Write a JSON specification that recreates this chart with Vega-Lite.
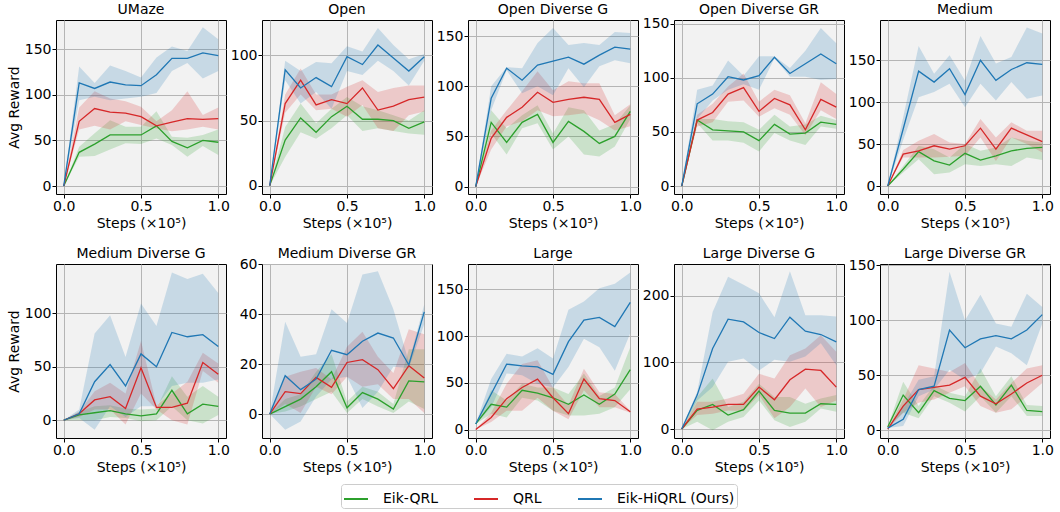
{
"$schema":"https://vega.github.io/schema/vega-lite/v6.json",
"padding":{"left":6,"top":2,"right":5,"bottom":0},
"bounds":"flush",
"columns":5,
"spacing":{"row":70,"column":36},
"data":{"values":[
{"p":"UMaze","s":"Eik-QRL","x":0,"y":0,"lo":0,"hi":0},
{"p":"UMaze","s":"Eik-QRL","x":0.1,"y":37,"lo":32,"hi":43},
{"p":"UMaze","s":"Eik-QRL","x":0.2,"y":46,"lo":33,"hi":58},
{"p":"UMaze","s":"Eik-QRL","x":0.3,"y":56,"lo":40,"hi":72},
{"p":"UMaze","s":"Eik-QRL","x":0.4,"y":56,"lo":47,"hi":65},
{"p":"UMaze","s":"Eik-QRL","x":0.5,"y":56,"lo":46,"hi":65},
{"p":"UMaze","s":"Eik-QRL","x":0.6,"y":66,"lo":52,"hi":82},
{"p":"UMaze","s":"Eik-QRL","x":0.7,"y":49,"lo":45,"hi":54},
{"p":"UMaze","s":"Eik-QRL","x":0.8,"y":42,"lo":32,"hi":53},
{"p":"UMaze","s":"Eik-QRL","x":0.9,"y":50,"lo":44,"hi":56},
{"p":"UMaze","s":"Eik-QRL","x":1.0,"y":48,"lo":34,"hi":62},
{"p":"UMaze","s":"QRL","x":0,"y":0,"lo":0,"hi":0},
{"p":"UMaze","s":"QRL","x":0.1,"y":71,"lo":62,"hi":86},
{"p":"UMaze","s":"QRL","x":0.2,"y":85,"lo":66,"hi":104},
{"p":"UMaze","s":"QRL","x":0.3,"y":81,"lo":62,"hi":96},
{"p":"UMaze","s":"QRL","x":0.4,"y":80,"lo":71,"hi":93},
{"p":"UMaze","s":"QRL","x":0.5,"y":76,"lo":67,"hi":87},
{"p":"UMaze","s":"QRL","x":0.6,"y":66,"lo":63,"hi":71},
{"p":"UMaze","s":"QRL","x":0.7,"y":70,"lo":60,"hi":83},
{"p":"UMaze","s":"QRL","x":0.8,"y":74,"lo":62,"hi":104},
{"p":"UMaze","s":"QRL","x":0.9,"y":73,"lo":65,"hi":78},
{"p":"UMaze","s":"QRL","x":1.0,"y":74,"lo":62,"hi":86},
{"p":"UMaze","s":"Eik-HiQRL (Ours)","x":0,"y":0,"lo":0,"hi":0},
{"p":"UMaze","s":"Eik-HiQRL (Ours)","x":0.1,"y":113,"lo":94,"hi":131},
{"p":"UMaze","s":"Eik-HiQRL (Ours)","x":0.2,"y":107,"lo":98,"hi":113},
{"p":"UMaze","s":"Eik-HiQRL (Ours)","x":0.3,"y":114,"lo":94,"hi":132},
{"p":"UMaze","s":"Eik-HiQRL (Ours)","x":0.4,"y":111,"lo":96,"hi":126},
{"p":"UMaze","s":"Eik-HiQRL (Ours)","x":0.5,"y":110,"lo":98,"hi":119},
{"p":"UMaze","s":"Eik-HiQRL (Ours)","x":0.6,"y":122,"lo":102,"hi":141},
{"p":"UMaze","s":"Eik-HiQRL (Ours)","x":0.7,"y":140,"lo":126,"hi":153},
{"p":"UMaze","s":"Eik-HiQRL (Ours)","x":0.8,"y":140,"lo":135,"hi":148},
{"p":"UMaze","s":"Eik-HiQRL (Ours)","x":0.9,"y":146,"lo":118,"hi":174},
{"p":"UMaze","s":"Eik-HiQRL (Ours)","x":1.0,"y":143,"lo":126,"hi":161},
{"p":"Open","s":"Eik-QRL","x":0,"y":0,"lo":0,"hi":0},
{"p":"Open","s":"Eik-QRL","x":0.1,"y":35,"lo":22,"hi":45},
{"p":"Open","s":"Eik-QRL","x":0.2,"y":52,"lo":41,"hi":63},
{"p":"Open","s":"Eik-QRL","x":0.3,"y":41,"lo":36,"hi":48},
{"p":"Open","s":"Eik-QRL","x":0.4,"y":53,"lo":44,"hi":59},
{"p":"Open","s":"Eik-QRL","x":0.5,"y":61,"lo":54,"hi":68},
{"p":"Open","s":"Eik-QRL","x":0.6,"y":51,"lo":42,"hi":61},
{"p":"Open","s":"Eik-QRL","x":0.7,"y":51,"lo":44,"hi":58},
{"p":"Open","s":"Eik-QRL","x":0.8,"y":50,"lo":42,"hi":54},
{"p":"Open","s":"Eik-QRL","x":0.9,"y":44,"lo":40,"hi":50},
{"p":"Open","s":"Eik-QRL","x":1.0,"y":49,"lo":39,"hi":58},
{"p":"Open","s":"QRL","x":0,"y":0,"lo":0,"hi":0},
{"p":"Open","s":"QRL","x":0.1,"y":63,"lo":56,"hi":70},
{"p":"Open","s":"QRL","x":0.2,"y":81,"lo":70,"hi":90},
{"p":"Open","s":"QRL","x":0.3,"y":62,"lo":58,"hi":70},
{"p":"Open","s":"QRL","x":0.4,"y":66,"lo":59,"hi":70},
{"p":"Open","s":"QRL","x":0.5,"y":63,"lo":53,"hi":76},
{"p":"Open","s":"QRL","x":0.6,"y":75,"lo":62,"hi":81},
{"p":"Open","s":"QRL","x":0.7,"y":58,"lo":44,"hi":72},
{"p":"Open","s":"QRL","x":0.8,"y":61,"lo":42,"hi":75},
{"p":"Open","s":"QRL","x":0.9,"y":66,"lo":54,"hi":77},
{"p":"Open","s":"QRL","x":1.0,"y":68,"lo":57,"hi":77},
{"p":"Open","s":"Eik-HiQRL (Ours)","x":0,"y":0,"lo":0,"hi":0},
{"p":"Open","s":"Eik-HiQRL (Ours)","x":0.1,"y":89,"lo":81,"hi":96},
{"p":"Open","s":"Eik-HiQRL (Ours)","x":0.2,"y":75,"lo":63,"hi":88},
{"p":"Open","s":"Eik-HiQRL (Ours)","x":0.3,"y":83,"lo":72,"hi":95},
{"p":"Open","s":"Eik-HiQRL (Ours)","x":0.4,"y":76,"lo":59,"hi":94},
{"p":"Open","s":"Eik-HiQRL (Ours)","x":0.5,"y":99,"lo":88,"hi":107},
{"p":"Open","s":"Eik-HiQRL (Ours)","x":0.6,"y":93,"lo":85,"hi":103},
{"p":"Open","s":"Eik-HiQRL (Ours)","x":0.7,"y":108,"lo":96,"hi":121},
{"p":"Open","s":"Eik-HiQRL (Ours)","x":0.8,"y":98,"lo":88,"hi":108},
{"p":"Open","s":"Eik-HiQRL (Ours)","x":0.9,"y":88,"lo":77,"hi":97},
{"p":"Open","s":"Eik-HiQRL (Ours)","x":1.0,"y":99,"lo":96,"hi":101},
{"p":"Open Diverse G","s":"Eik-QRL","x":0,"y":0,"lo":0,"hi":0},
{"p":"Open Diverse G","s":"Eik-QRL","x":0.1,"y":64,"lo":53,"hi":76},
{"p":"Open Diverse G","s":"Eik-QRL","x":0.2,"y":44,"lo":32,"hi":58},
{"p":"Open Diverse G","s":"Eik-QRL","x":0.3,"y":64,"lo":58,"hi":71},
{"p":"Open Diverse G","s":"Eik-QRL","x":0.4,"y":72,"lo":63,"hi":81},
{"p":"Open Diverse G","s":"Eik-QRL","x":0.5,"y":44,"lo":37,"hi":53},
{"p":"Open Diverse G","s":"Eik-QRL","x":0.6,"y":65,"lo":50,"hi":79},
{"p":"Open Diverse G","s":"Eik-QRL","x":0.7,"y":55,"lo":32,"hi":76},
{"p":"Open Diverse G","s":"Eik-QRL","x":0.8,"y":43,"lo":30,"hi":56},
{"p":"Open Diverse G","s":"Eik-QRL","x":0.9,"y":50,"lo":40,"hi":62},
{"p":"Open Diverse G","s":"Eik-QRL","x":1.0,"y":75,"lo":67,"hi":81},
{"p":"Open Diverse G","s":"QRL","x":0,"y":0,"lo":0,"hi":0},
{"p":"Open Diverse G","s":"QRL","x":0.1,"y":48,"lo":37,"hi":56},
{"p":"Open Diverse G","s":"QRL","x":0.2,"y":69,"lo":60,"hi":76},
{"p":"Open Diverse G","s":"QRL","x":0.3,"y":79,"lo":65,"hi":95},
{"p":"Open Diverse G","s":"QRL","x":0.4,"y":94,"lo":76,"hi":115},
{"p":"Open Diverse G","s":"QRL","x":0.5,"y":84,"lo":70,"hi":96},
{"p":"Open Diverse G","s":"QRL","x":0.6,"y":87,"lo":71,"hi":105},
{"p":"Open Diverse G","s":"QRL","x":0.7,"y":89,"lo":73,"hi":103},
{"p":"Open Diverse G","s":"QRL","x":0.8,"y":87,"lo":66,"hi":103},
{"p":"Open Diverse G","s":"QRL","x":0.9,"y":64,"lo":56,"hi":71},
{"p":"Open Diverse G","s":"QRL","x":1.0,"y":72,"lo":60,"hi":82},
{"p":"Open Diverse G","s":"Eik-HiQRL (Ours)","x":0,"y":0,"lo":0,"hi":0},
{"p":"Open Diverse G","s":"Eik-HiQRL (Ours)","x":0.1,"y":88,"lo":76,"hi":100},
{"p":"Open Diverse G","s":"Eik-HiQRL (Ours)","x":0.2,"y":118,"lo":116,"hi":119},
{"p":"Open Diverse G","s":"Eik-HiQRL (Ours)","x":0.3,"y":106,"lo":93,"hi":118},
{"p":"Open Diverse G","s":"Eik-HiQRL (Ours)","x":0.4,"y":121,"lo":100,"hi":143},
{"p":"Open Diverse G","s":"Eik-HiQRL (Ours)","x":0.5,"y":125,"lo":91,"hi":158},
{"p":"Open Diverse G","s":"Eik-HiQRL (Ours)","x":0.6,"y":129,"lo":118,"hi":141},
{"p":"Open Diverse G","s":"Eik-HiQRL (Ours)","x":0.7,"y":122,"lo":99,"hi":143},
{"p":"Open Diverse G","s":"Eik-HiQRL (Ours)","x":0.8,"y":131,"lo":120,"hi":141},
{"p":"Open Diverse G","s":"Eik-HiQRL (Ours)","x":0.9,"y":139,"lo":126,"hi":154},
{"p":"Open Diverse G","s":"Eik-HiQRL (Ours)","x":1.0,"y":137,"lo":123,"hi":153},
{"p":"Open Diverse GR","s":"Eik-QRL","x":0,"y":0,"lo":0,"hi":0},
{"p":"Open Diverse GR","s":"Eik-QRL","x":0.1,"y":61,"lo":58,"hi":62},
{"p":"Open Diverse GR","s":"Eik-QRL","x":0.2,"y":52,"lo":42,"hi":62},
{"p":"Open Diverse GR","s":"Eik-QRL","x":0.3,"y":51,"lo":42,"hi":60},
{"p":"Open Diverse GR","s":"Eik-QRL","x":0.4,"y":50,"lo":40,"hi":59},
{"p":"Open Diverse GR","s":"Eik-QRL","x":0.5,"y":42,"lo":32,"hi":52},
{"p":"Open Diverse GR","s":"Eik-QRL","x":0.6,"y":57,"lo":49,"hi":66},
{"p":"Open Diverse GR","s":"Eik-QRL","x":0.7,"y":48,"lo":42,"hi":55},
{"p":"Open Diverse GR","s":"Eik-QRL","x":0.8,"y":49,"lo":38,"hi":57},
{"p":"Open Diverse GR","s":"Eik-QRL","x":0.9,"y":59,"lo":55,"hi":65},
{"p":"Open Diverse GR","s":"Eik-QRL","x":1.0,"y":57,"lo":53,"hi":61},
{"p":"Open Diverse GR","s":"QRL","x":0,"y":0,"lo":0,"hi":0},
{"p":"Open Diverse GR","s":"QRL","x":0.1,"y":61,"lo":55,"hi":66},
{"p":"Open Diverse GR","s":"QRL","x":0.2,"y":68,"lo":59,"hi":76},
{"p":"Open Diverse GR","s":"QRL","x":0.3,"y":85,"lo":78,"hi":92},
{"p":"Open Diverse GR","s":"QRL","x":0.4,"y":91,"lo":79,"hi":104},
{"p":"Open Diverse GR","s":"QRL","x":0.5,"y":69,"lo":64,"hi":78},
{"p":"Open Diverse GR","s":"QRL","x":0.6,"y":81,"lo":72,"hi":89},
{"p":"Open Diverse GR","s":"QRL","x":0.7,"y":75,"lo":66,"hi":84},
{"p":"Open Diverse GR","s":"QRL","x":0.8,"y":52,"lo":47,"hi":58},
{"p":"Open Diverse GR","s":"QRL","x":0.9,"y":80,"lo":70,"hi":96},
{"p":"Open Diverse GR","s":"QRL","x":1.0,"y":73,"lo":62,"hi":85},
{"p":"Open Diverse GR","s":"Eik-HiQRL (Ours)","x":0,"y":0,"lo":0,"hi":0},
{"p":"Open Diverse GR","s":"Eik-HiQRL (Ours)","x":0.1,"y":76,"lo":62,"hi":89},
{"p":"Open Diverse GR","s":"Eik-HiQRL (Ours)","x":0.2,"y":85,"lo":79,"hi":93},
{"p":"Open Diverse GR","s":"Eik-HiQRL (Ours)","x":0.3,"y":101,"lo":89,"hi":116},
{"p":"Open Diverse GR","s":"Eik-HiQRL (Ours)","x":0.4,"y":98,"lo":94,"hi":102},
{"p":"Open Diverse GR","s":"Eik-HiQRL (Ours)","x":0.5,"y":102,"lo":89,"hi":120},
{"p":"Open Diverse GR","s":"Eik-HiQRL (Ours)","x":0.6,"y":119,"lo":118,"hi":120},
{"p":"Open Diverse GR","s":"Eik-HiQRL (Ours)","x":0.7,"y":104,"lo":101,"hi":109},
{"p":"Open Diverse GR","s":"Eik-HiQRL (Ours)","x":0.8,"y":113,"lo":101,"hi":125},
{"p":"Open Diverse GR","s":"Eik-HiQRL (Ours)","x":0.9,"y":122,"lo":98,"hi":146},
{"p":"Open Diverse GR","s":"Eik-HiQRL (Ours)","x":1.0,"y":113,"lo":99,"hi":132},
{"p":"Medium","s":"Eik-QRL","x":0,"y":0,"lo":0,"hi":0},
{"p":"Medium","s":"Eik-QRL","x":0.1,"y":20,"lo":16,"hi":24},
{"p":"Medium","s":"Eik-QRL","x":0.2,"y":41,"lo":32,"hi":48},
{"p":"Medium","s":"Eik-QRL","x":0.3,"y":30,"lo":14,"hi":44},
{"p":"Medium","s":"Eik-QRL","x":0.4,"y":25,"lo":16,"hi":34},
{"p":"Medium","s":"Eik-QRL","x":0.5,"y":39,"lo":26,"hi":50},
{"p":"Medium","s":"Eik-QRL","x":0.6,"y":31,"lo":24,"hi":42},
{"p":"Medium","s":"Eik-QRL","x":0.7,"y":36,"lo":26,"hi":46},
{"p":"Medium","s":"Eik-QRL","x":0.8,"y":42,"lo":24,"hi":58},
{"p":"Medium","s":"Eik-QRL","x":0.9,"y":45,"lo":34,"hi":54},
{"p":"Medium","s":"Eik-QRL","x":1.0,"y":46,"lo":31,"hi":52},
{"p":"Medium","s":"QRL","x":0,"y":0,"lo":0,"hi":0},
{"p":"Medium","s":"QRL","x":0.1,"y":38,"lo":34,"hi":43},
{"p":"Medium","s":"QRL","x":0.2,"y":42,"lo":34,"hi":54},
{"p":"Medium","s":"QRL","x":0.3,"y":48,"lo":34,"hi":62},
{"p":"Medium","s":"QRL","x":0.4,"y":44,"lo":35,"hi":52},
{"p":"Medium","s":"QRL","x":0.5,"y":48,"lo":36,"hi":50},
{"p":"Medium","s":"QRL","x":0.6,"y":69,"lo":58,"hi":80},
{"p":"Medium","s":"QRL","x":0.7,"y":44,"lo":30,"hi":58},
{"p":"Medium","s":"QRL","x":0.8,"y":69,"lo":58,"hi":76},
{"p":"Medium","s":"QRL","x":0.9,"y":61,"lo":50,"hi":66},
{"p":"Medium","s":"QRL","x":1.0,"y":53,"lo":40,"hi":66},
{"p":"Medium","s":"Eik-HiQRL (Ours)","x":0,"y":0,"lo":0,"hi":0},
{"p":"Medium","s":"Eik-HiQRL (Ours)","x":0.1,"y":68,"lo":55,"hi":82},
{"p":"Medium","s":"Eik-HiQRL (Ours)","x":0.2,"y":137,"lo":106,"hi":167},
{"p":"Medium","s":"Eik-HiQRL (Ours)","x":0.3,"y":124,"lo":112,"hi":134},
{"p":"Medium","s":"Eik-HiQRL (Ours)","x":0.4,"y":140,"lo":122,"hi":156},
{"p":"Medium","s":"Eik-HiQRL (Ours)","x":0.5,"y":109,"lo":94,"hi":126},
{"p":"Medium","s":"Eik-HiQRL (Ours)","x":0.6,"y":150,"lo":122,"hi":179},
{"p":"Medium","s":"Eik-HiQRL (Ours)","x":0.7,"y":126,"lo":102,"hi":146},
{"p":"Medium","s":"Eik-HiQRL (Ours)","x":0.8,"y":139,"lo":124,"hi":154},
{"p":"Medium","s":"Eik-HiQRL (Ours)","x":0.9,"y":147,"lo":104,"hi":189},
{"p":"Medium","s":"Eik-HiQRL (Ours)","x":1.0,"y":145,"lo":108,"hi":182},
{"p":"Medium Diverse G","s":"Eik-QRL","x":0,"y":0,"lo":0,"hi":0},
{"p":"Medium Diverse G","s":"Eik-QRL","x":0.1,"y":5,"lo":0,"hi":8},
{"p":"Medium Diverse G","s":"Eik-QRL","x":0.2,"y":7,"lo":0,"hi":13},
{"p":"Medium Diverse G","s":"Eik-QRL","x":0.3,"y":9,"lo":3,"hi":14},
{"p":"Medium Diverse G","s":"Eik-QRL","x":0.4,"y":6,"lo":2,"hi":11},
{"p":"Medium Diverse G","s":"Eik-QRL","x":0.5,"y":4,"lo":-1,"hi":10},
{"p":"Medium Diverse G","s":"Eik-QRL","x":0.6,"y":6,"lo":0,"hi":11},
{"p":"Medium Diverse G","s":"Eik-QRL","x":0.7,"y":28,"lo":13,"hi":41},
{"p":"Medium Diverse G","s":"Eik-QRL","x":0.8,"y":6,"lo":0,"hi":22},
{"p":"Medium Diverse G","s":"Eik-QRL","x":0.9,"y":15,"lo":-3,"hi":32},
{"p":"Medium Diverse G","s":"Eik-QRL","x":1.0,"y":13,"lo":5,"hi":22},
{"p":"Medium Diverse G","s":"QRL","x":0,"y":0,"lo":0,"hi":0},
{"p":"Medium Diverse G","s":"QRL","x":0.1,"y":6,"lo":3,"hi":8},
{"p":"Medium Diverse G","s":"QRL","x":0.2,"y":19,"lo":10,"hi":27},
{"p":"Medium Diverse G","s":"QRL","x":0.3,"y":22,"lo":10,"hi":35},
{"p":"Medium Diverse G","s":"QRL","x":0.4,"y":11,"lo":-4,"hi":25},
{"p":"Medium Diverse G","s":"QRL","x":0.5,"y":49,"lo":25,"hi":74},
{"p":"Medium Diverse G","s":"QRL","x":0.6,"y":12,"lo":10,"hi":14},
{"p":"Medium Diverse G","s":"QRL","x":0.7,"y":12,"lo":0,"hi":25},
{"p":"Medium Diverse G","s":"QRL","x":0.8,"y":16,"lo":-4,"hi":36},
{"p":"Medium Diverse G","s":"QRL","x":0.9,"y":54,"lo":46,"hi":63},
{"p":"Medium Diverse G","s":"QRL","x":1.0,"y":43,"lo":35,"hi":53},
{"p":"Medium Diverse G","s":"Eik-HiQRL (Ours)","x":0,"y":0,"lo":0,"hi":0},
{"p":"Medium Diverse G","s":"Eik-HiQRL (Ours)","x":0.1,"y":6,"lo":2,"hi":10},
{"p":"Medium Diverse G","s":"Eik-HiQRL (Ours)","x":0.2,"y":36,"lo":-9,"hi":81},
{"p":"Medium Diverse G","s":"Eik-HiQRL (Ours)","x":0.3,"y":52,"lo":13,"hi":98},
{"p":"Medium Diverse G","s":"Eik-HiQRL (Ours)","x":0.4,"y":32,"lo":3,"hi":59},
{"p":"Medium Diverse G","s":"Eik-HiQRL (Ours)","x":0.5,"y":62,"lo":13,"hi":109},
{"p":"Medium Diverse G","s":"Eik-HiQRL (Ours)","x":0.6,"y":50,"lo":13,"hi":88},
{"p":"Medium Diverse G","s":"Eik-HiQRL (Ours)","x":0.7,"y":82,"lo":32,"hi":138},
{"p":"Medium Diverse G","s":"Eik-HiQRL (Ours)","x":0.8,"y":78,"lo":35,"hi":132},
{"p":"Medium Diverse G","s":"Eik-HiQRL (Ours)","x":0.9,"y":80,"lo":35,"hi":137},
{"p":"Medium Diverse G","s":"Eik-HiQRL (Ours)","x":1.0,"y":69,"lo":38,"hi":119},
{"p":"Medium Diverse GR","s":"Eik-QRL","x":0,"y":0,"lo":0,"hi":0},
{"p":"Medium Diverse GR","s":"Eik-QRL","x":0.1,"y":3,"lo":1,"hi":6},
{"p":"Medium Diverse GR","s":"Eik-QRL","x":0.2,"y":6,"lo":3,"hi":8},
{"p":"Medium Diverse GR","s":"Eik-QRL","x":0.3,"y":11,"lo":6,"hi":17},
{"p":"Medium Diverse GR","s":"Eik-QRL","x":0.4,"y":17,"lo":9,"hi":24},
{"p":"Medium Diverse GR","s":"Eik-QRL","x":0.5,"y":2.5,"lo":0.4,"hi":5},
{"p":"Medium Diverse GR","s":"Eik-QRL","x":0.6,"y":8.6,"lo":6,"hi":11},
{"p":"Medium Diverse GR","s":"Eik-QRL","x":0.7,"y":6,"lo":3,"hi":9},
{"p":"Medium Diverse GR","s":"Eik-QRL","x":0.8,"y":2,"lo":0.4,"hi":4},
{"p":"Medium Diverse GR","s":"Eik-QRL","x":0.9,"y":13.3,"lo":5,"hi":26},
{"p":"Medium Diverse GR","s":"Eik-QRL","x":1.0,"y":12.9,"lo":2,"hi":26},
{"p":"Medium Diverse GR","s":"QRL","x":0,"y":0,"lo":0,"hi":0},
{"p":"Medium Diverse GR","s":"QRL","x":0.1,"y":9,"lo":4,"hi":15},
{"p":"Medium Diverse GR","s":"QRL","x":0.2,"y":8.2,"lo":0.4,"hi":17},
{"p":"Medium Diverse GR","s":"QRL","x":0.3,"y":14.7,"lo":11,"hi":18.5},
{"p":"Medium Diverse GR","s":"QRL","x":0.4,"y":10.7,"lo":8,"hi":14},
{"p":"Medium Diverse GR","s":"QRL","x":0.5,"y":20.7,"lo":15,"hi":27},
{"p":"Medium Diverse GR","s":"QRL","x":0.6,"y":21.8,"lo":11,"hi":33},
{"p":"Medium Diverse GR","s":"QRL","x":0.7,"y":17.8,"lo":12,"hi":23},
{"p":"Medium Diverse GR","s":"QRL","x":0.8,"y":10.2,"lo":6,"hi":16.5},
{"p":"Medium Diverse GR","s":"QRL","x":0.9,"y":19.4,"lo":6,"hi":34},
{"p":"Medium Diverse GR","s":"QRL","x":1.0,"y":14.5,"lo":0.4,"hi":32},
{"p":"Medium Diverse GR","s":"Eik-HiQRL (Ours)","x":0,"y":0,"lo":0,"hi":0},
{"p":"Medium Diverse GR","s":"Eik-HiQRL (Ours)","x":0.1,"y":15.4,"lo":-6.3,"hi":37},
{"p":"Medium Diverse GR","s":"Eik-HiQRL (Ours)","x":0.2,"y":9.8,"lo":-3,"hi":23},
{"p":"Medium Diverse GR","s":"Eik-HiQRL (Ours)","x":0.3,"y":14,"lo":7,"hi":24},
{"p":"Medium Diverse GR","s":"Eik-HiQRL (Ours)","x":0.4,"y":25.6,"lo":14,"hi":42},
{"p":"Medium Diverse GR","s":"Eik-HiQRL (Ours)","x":0.5,"y":23.8,"lo":15,"hi":36.5},
{"p":"Medium Diverse GR","s":"Eik-HiQRL (Ours)","x":0.6,"y":29.2,"lo":2.4,"hi":56},
{"p":"Medium Diverse GR","s":"Eik-HiQRL (Ours)","x":0.7,"y":32.5,"lo":9,"hi":57.3},
{"p":"Medium Diverse GR","s":"Eik-HiQRL (Ours)","x":0.8,"y":30.5,"lo":19,"hi":42},
{"p":"Medium Diverse GR","s":"Eik-HiQRL (Ours)","x":0.9,"y":19.7,"lo":18.5,"hi":21},
{"p":"Medium Diverse GR","s":"Eik-HiQRL (Ours)","x":1.0,"y":41,"lo":36,"hi":44},
{"p":"Large","s":"Eik-QRL","x":0,"y":6,"lo":6,"hi":6},
{"p":"Large","s":"Eik-QRL","x":0.1,"y":27,"lo":17,"hi":42},
{"p":"Large","s":"Eik-QRL","x":0.2,"y":24,"lo":13,"hi":31},
{"p":"Large","s":"Eik-QRL","x":0.3,"y":42,"lo":34,"hi":49},
{"p":"Large","s":"Eik-QRL","x":0.4,"y":39,"lo":31,"hi":45},
{"p":"Large","s":"Eik-QRL","x":0.5,"y":34,"lo":20,"hi":45},
{"p":"Large","s":"Eik-QRL","x":0.6,"y":27,"lo":15,"hi":38},
{"p":"Large","s":"Eik-QRL","x":0.7,"y":37,"lo":15,"hi":60},
{"p":"Large","s":"Eik-QRL","x":0.8,"y":27,"lo":17,"hi":36},
{"p":"Large","s":"Eik-QRL","x":0.9,"y":38,"lo":24,"hi":45},
{"p":"Large","s":"Eik-QRL","x":1.0,"y":64,"lo":43,"hi":88},
{"p":"Large","s":"QRL","x":0,"y":0,"lo":0,"hi":0},
{"p":"Large","s":"QRL","x":0.1,"y":13,"lo":8,"hi":18},
{"p":"Large","s":"QRL","x":0.2,"y":33,"lo":20,"hi":49},
{"p":"Large","s":"QRL","x":0.3,"y":45,"lo":20,"hi":70},
{"p":"Large","s":"QRL","x":0.4,"y":54,"lo":34,"hi":74},
{"p":"Large","s":"QRL","x":0.5,"y":34,"lo":20,"hi":45},
{"p":"Large","s":"QRL","x":0.6,"y":17,"lo":11,"hi":26},
{"p":"Large","s":"QRL","x":0.7,"y":54,"lo":42,"hi":65},
{"p":"Large","s":"QRL","x":0.8,"y":33,"lo":24,"hi":40},
{"p":"Large","s":"QRL","x":0.9,"y":31,"lo":24,"hi":38},
{"p":"Large","s":"QRL","x":1.0,"y":19,"lo":18,"hi":20},
{"p":"Large","s":"Eik-HiQRL (Ours)","x":0,"y":6,"lo":6,"hi":6},
{"p":"Large","s":"Eik-HiQRL (Ours)","x":0.1,"y":38,"lo":24,"hi":54},
{"p":"Large","s":"Eik-HiQRL (Ours)","x":0.2,"y":70,"lo":60,"hi":81},
{"p":"Large","s":"Eik-HiQRL (Ours)","x":0.3,"y":68,"lo":58,"hi":78},
{"p":"Large","s":"Eik-HiQRL (Ours)","x":0.4,"y":67,"lo":49,"hi":87},
{"p":"Large","s":"Eik-HiQRL (Ours)","x":0.5,"y":59,"lo":45,"hi":76},
{"p":"Large","s":"Eik-HiQRL (Ours)","x":0.6,"y":94,"lo":67,"hi":128},
{"p":"Large","s":"Eik-HiQRL (Ours)","x":0.7,"y":117,"lo":97,"hi":137},
{"p":"Large","s":"Eik-HiQRL (Ours)","x":0.8,"y":120,"lo":88,"hi":151},
{"p":"Large","s":"Eik-HiQRL (Ours)","x":0.9,"y":110,"lo":63,"hi":156},
{"p":"Large","s":"Eik-HiQRL (Ours)","x":1.0,"y":136,"lo":103,"hi":168},
{"p":"Large Diverse G","s":"Eik-QRL","x":0,"y":0,"lo":0,"hi":0},
{"p":"Large Diverse G","s":"Eik-QRL","x":0.1,"y":28,"lo":11,"hi":48},
{"p":"Large Diverse G","s":"Eik-QRL","x":0.2,"y":37,"lo":-2,"hi":76},
{"p":"Large Diverse G","s":"Eik-QRL","x":0.3,"y":21,"lo":11,"hi":33},
{"p":"Large Diverse G","s":"Eik-QRL","x":0.4,"y":29,"lo":18,"hi":41},
{"p":"Large Diverse G","s":"Eik-QRL","x":0.5,"y":57,"lo":43,"hi":68},
{"p":"Large Diverse G","s":"Eik-QRL","x":0.6,"y":28,"lo":13,"hi":48},
{"p":"Large Diverse G","s":"Eik-QRL","x":0.7,"y":24,"lo":3,"hi":48},
{"p":"Large Diverse G","s":"Eik-QRL","x":0.8,"y":24,"lo":11,"hi":38},
{"p":"Large Diverse G","s":"Eik-QRL","x":0.9,"y":38,"lo":31,"hi":46},
{"p":"Large Diverse G","s":"Eik-QRL","x":1.0,"y":37,"lo":26,"hi":51},
{"p":"Large Diverse G","s":"QRL","x":0,"y":0,"lo":0,"hi":0},
{"p":"Large Diverse G","s":"QRL","x":0.1,"y":30,"lo":21,"hi":41},
{"p":"Large Diverse G","s":"QRL","x":0.2,"y":33,"lo":23,"hi":41},
{"p":"Large Diverse G","s":"QRL","x":0.3,"y":37,"lo":28,"hi":46},
{"p":"Large Diverse G","s":"QRL","x":0.4,"y":37,"lo":27,"hi":53},
{"p":"Large Diverse G","s":"QRL","x":0.5,"y":63,"lo":51,"hi":83},
{"p":"Large Diverse G","s":"QRL","x":0.6,"y":44,"lo":16,"hi":76},
{"p":"Large Diverse G","s":"QRL","x":0.7,"y":74,"lo":33,"hi":111},
{"p":"Large Diverse G","s":"QRL","x":0.8,"y":90,"lo":61,"hi":121},
{"p":"Large Diverse G","s":"QRL","x":0.9,"y":88,"lo":33,"hi":141},
{"p":"Large Diverse G","s":"QRL","x":1.0,"y":63,"lo":43,"hi":116},
{"p":"Large Diverse G","s":"Eik-HiQRL (Ours)","x":0,"y":0,"lo":0,"hi":0},
{"p":"Large Diverse G","s":"Eik-HiQRL (Ours)","x":0.1,"y":51,"lo":43,"hi":56},
{"p":"Large Diverse G","s":"Eik-HiQRL (Ours)","x":0.2,"y":121,"lo":63,"hi":176},
{"p":"Large Diverse G","s":"Eik-HiQRL (Ours)","x":0.3,"y":165,"lo":101,"hi":229},
{"p":"Large Diverse G","s":"Eik-HiQRL (Ours)","x":0.4,"y":161,"lo":106,"hi":217},
{"p":"Large Diverse G","s":"Eik-HiQRL (Ours)","x":0.5,"y":145,"lo":88,"hi":204},
{"p":"Large Diverse G","s":"Eik-HiQRL (Ours)","x":0.6,"y":136,"lo":104,"hi":168},
{"p":"Large Diverse G","s":"Eik-HiQRL (Ours)","x":0.7,"y":168,"lo":101,"hi":237},
{"p":"Large Diverse G","s":"Eik-HiQRL (Ours)","x":0.8,"y":147,"lo":109,"hi":171},
{"p":"Large Diverse G","s":"Eik-HiQRL (Ours)","x":0.9,"y":142,"lo":129,"hi":171},
{"p":"Large Diverse G","s":"Eik-HiQRL (Ours)","x":1.0,"y":131,"lo":96,"hi":169},
{"p":"Large Diverse GR","s":"Eik-QRL","x":0,"y":3,"lo":3,"hi":3},
{"p":"Large Diverse GR","s":"Eik-QRL","x":0.1,"y":32,"lo":16,"hi":44},
{"p":"Large Diverse GR","s":"Eik-QRL","x":0.2,"y":16,"lo":11,"hi":22},
{"p":"Large Diverse GR","s":"Eik-QRL","x":0.3,"y":36,"lo":31,"hi":41},
{"p":"Large Diverse GR","s":"Eik-QRL","x":0.4,"y":29,"lo":25,"hi":34},
{"p":"Large Diverse GR","s":"Eik-QRL","x":0.5,"y":27,"lo":17,"hi":31},
{"p":"Large Diverse GR","s":"Eik-QRL","x":0.6,"y":40,"lo":31,"hi":56},
{"p":"Large Diverse GR","s":"Eik-QRL","x":0.7,"y":23,"lo":16,"hi":31},
{"p":"Large Diverse GR","s":"Eik-QRL","x":0.8,"y":41,"lo":31,"hi":49},
{"p":"Large Diverse GR","s":"Eik-QRL","x":0.9,"y":18,"lo":13,"hi":23},
{"p":"Large Diverse GR","s":"Eik-QRL","x":1.0,"y":17,"lo":13,"hi":22},
{"p":"Large Diverse GR","s":"QRL","x":0,"y":1,"lo":1,"hi":1},
{"p":"Large Diverse GR","s":"QRL","x":0.1,"y":22,"lo":16,"hi":28},
{"p":"Large Diverse GR","s":"QRL","x":0.2,"y":37,"lo":25,"hi":59},
{"p":"Large Diverse GR","s":"QRL","x":0.3,"y":39,"lo":28,"hi":56},
{"p":"Large Diverse GR","s":"QRL","x":0.4,"y":41,"lo":34,"hi":53},
{"p":"Large Diverse GR","s":"QRL","x":0.5,"y":48,"lo":40,"hi":61},
{"p":"Large Diverse GR","s":"QRL","x":0.6,"y":31,"lo":22,"hi":40},
{"p":"Large Diverse GR","s":"QRL","x":0.7,"y":24,"lo":16,"hi":28},
{"p":"Large Diverse GR","s":"QRL","x":0.8,"y":33,"lo":19,"hi":43},
{"p":"Large Diverse GR","s":"QRL","x":0.9,"y":43,"lo":31,"hi":56},
{"p":"Large Diverse GR","s":"QRL","x":1.0,"y":50,"lo":43,"hi":59},
{"p":"Large Diverse GR","s":"Eik-HiQRL (Ours)","x":0,"y":2,"lo":2,"hi":2},
{"p":"Large Diverse GR","s":"Eik-HiQRL (Ours)","x":0.1,"y":10,"lo":4,"hi":22},
{"p":"Large Diverse GR","s":"Eik-HiQRL (Ours)","x":0.2,"y":37,"lo":31,"hi":46},
{"p":"Large Diverse GR","s":"Eik-HiQRL (Ours)","x":0.3,"y":40,"lo":37,"hi":49},
{"p":"Large Diverse GR","s":"Eik-HiQRL (Ours)","x":0.4,"y":91,"lo":55,"hi":144},
{"p":"Large Diverse GR","s":"Eik-HiQRL (Ours)","x":0.5,"y":75,"lo":46,"hi":100},
{"p":"Large Diverse GR","s":"Eik-HiQRL (Ours)","x":0.6,"y":83,"lo":52,"hi":123},
{"p":"Large Diverse GR","s":"Eik-HiQRL (Ours)","x":0.7,"y":86,"lo":76,"hi":97},
{"p":"Large Diverse GR","s":"Eik-HiQRL (Ours)","x":0.8,"y":83,"lo":70,"hi":94},
{"p":"Large Diverse GR","s":"Eik-HiQRL (Ours)","x":0.9,"y":91,"lo":59,"hi":124},
{"p":"Large Diverse GR","s":"Eik-HiQRL (Ours)","x":1.0,"y":105,"lo":97,"hi":112}
]},
"concat":[
{"title":"UMaze","width":170,"height":174,"transform":[{"filter":"datum.p==='UMaze'"}],
 "encoding":{"x":{"field":"x","type":"quantitative","scale":{"domain":[-0.05,1.05],"nice":false,"zero":false},"axis":{"values":[0,0.5,1],"format":".1f","title":"Steps (×10⁵)"}},
  "y":{"field":"y","type":"quantitative","scale":{"domain":[-8.7,182],"nice":false,"zero":false},"axis":{"values":[0,50,100,150],"title":"Avg Reward"}},
  "color":{"field":"s","type":"nominal","scale":{"domain":["Eik-QRL","QRL","Eik-HiQRL (Ours)"],"range":["#2ca02c","#d62728","#1f77b4"]},"legend":{"orient":"none","legendX":285,"legendY":464,"direction":"horizontal","title":null,"encode":{"symbols":{"update":{"opacity":{"value":1},"strokeWidth":{"value":2}}}}}}},
 "layer":[{"mark":{"type":"area","opacity":0.2},"encoding":{"y":{"field":"lo","type":"quantitative"},"y2":{"field":"hi"}}},{"mark":{"type":"line","strokeWidth":1.3}}]},
{"title":"Open","width":170,"height":174,"transform":[{"filter":"datum.p==='Open'"}],
 "encoding":{"x":{"field":"x","type":"quantitative","scale":{"domain":[-0.05,1.05],"nice":false,"zero":false},"axis":{"values":[0,0.5,1],"format":".1f","title":"Steps (×10⁵)"}},
  "y":{"field":"y","type":"quantitative","scale":{"domain":[-6.4,127.2],"nice":false,"zero":false},"axis":{"values":[0,50,100],"title":null}},
  "color":{"field":"s","type":"nominal","scale":{"domain":["Eik-QRL","QRL","Eik-HiQRL (Ours)"],"range":["#2ca02c","#d62728","#1f77b4"]},"legend":{"orient":"none","legendX":285,"legendY":464,"direction":"horizontal","title":null,"encode":{"symbols":{"update":{"opacity":{"value":1},"strokeWidth":{"value":2}}}}}}},
 "layer":[{"mark":{"type":"area","opacity":0.2},"encoding":{"y":{"field":"lo","type":"quantitative"},"y2":{"field":"hi"}}},{"mark":{"type":"line","strokeWidth":1.3}}]},
{"title":"Open Diverse G","width":170,"height":174,"transform":[{"filter":"datum.p==='Open Diverse G'"}],
 "encoding":{"x":{"field":"x","type":"quantitative","scale":{"domain":[-0.05,1.05],"nice":false,"zero":false},"axis":{"values":[0,0.5,1],"format":".1f","title":"Steps (×10⁵)"}},
  "y":{"field":"y","type":"quantitative","scale":{"domain":[-7.4,166],"nice":false,"zero":false},"axis":{"values":[0,50,100,150],"title":null}},
  "color":{"field":"s","type":"nominal","scale":{"domain":["Eik-QRL","QRL","Eik-HiQRL (Ours)"],"range":["#2ca02c","#d62728","#1f77b4"]},"legend":{"orient":"none","legendX":285,"legendY":464,"direction":"horizontal","title":null,"encode":{"symbols":{"update":{"opacity":{"value":1},"strokeWidth":{"value":2}}}}}}},
 "layer":[{"mark":{"type":"area","opacity":0.2},"encoding":{"y":{"field":"lo","type":"quantitative"},"y2":{"field":"hi"}}},{"mark":{"type":"line","strokeWidth":1.3}}]},
{"title":{"text":"Open Diverse GR","offset":0},"width":170,"height":174,"transform":[{"filter":"datum.p==='Open Diverse GR'"}],
 "encoding":{"x":{"field":"x","type":"quantitative","scale":{"domain":[-0.05,1.05],"nice":false,"zero":false},"axis":{"values":[0,0.5,1],"format":".1f","title":"Steps (×10⁵)"}},
  "y":{"field":"y","type":"quantitative","scale":{"domain":[-7.3,153.4],"nice":false,"zero":false},"axis":{"values":[0,50,100,150],"title":null}},
  "color":{"field":"s","type":"nominal","scale":{"domain":["Eik-QRL","QRL","Eik-HiQRL (Ours)"],"range":["#2ca02c","#d62728","#1f77b4"]},"legend":{"orient":"none","legendX":285,"legendY":464,"direction":"horizontal","title":null,"encode":{"symbols":{"update":{"opacity":{"value":1},"strokeWidth":{"value":2}}}}}}},
 "layer":[{"mark":{"type":"area","opacity":0.2},"encoding":{"y":{"field":"lo","type":"quantitative"},"y2":{"field":"hi"}}},{"mark":{"type":"line","strokeWidth":1.3}}]},
{"title":"Medium","width":170,"height":174,"transform":[{"filter":"datum.p==='Medium'"}],
 "encoding":{"x":{"field":"x","type":"quantitative","scale":{"domain":[-0.05,1.05],"nice":false,"zero":false},"axis":{"values":[0,0.5,1],"format":".1f","title":"Steps (×10⁵)"}},
  "y":{"field":"y","type":"quantitative","scale":{"domain":[-9.5,198],"nice":false,"zero":false},"axis":{"values":[0,50,100,150],"title":null}},
  "color":{"field":"s","type":"nominal","scale":{"domain":["Eik-QRL","QRL","Eik-HiQRL (Ours)"],"range":["#2ca02c","#d62728","#1f77b4"]},"legend":{"orient":"none","legendX":285,"legendY":464,"direction":"horizontal","title":null,"encode":{"symbols":{"update":{"opacity":{"value":1},"strokeWidth":{"value":2}}}}}}},
 "layer":[{"mark":{"type":"area","opacity":0.2},"encoding":{"y":{"field":"lo","type":"quantitative"},"y2":{"field":"hi"}}},{"mark":{"type":"line","strokeWidth":1.3}}]},
{"title":"Medium Diverse G","width":170,"height":174,"transform":[{"filter":"datum.p==='Medium Diverse G'"}],
 "encoding":{"x":{"field":"x","type":"quantitative","scale":{"domain":[-0.05,1.05],"nice":false,"zero":false},"axis":{"values":[0,0.5,1],"format":".1f","title":"Steps (×10⁵)"}},
  "y":{"field":"y","type":"quantitative","scale":{"domain":[-16.6,146],"nice":false,"zero":false},"axis":{"values":[0,50,100],"title":"Avg Reward"}},
  "color":{"field":"s","type":"nominal","scale":{"domain":["Eik-QRL","QRL","Eik-HiQRL (Ours)"],"range":["#2ca02c","#d62728","#1f77b4"]},"legend":{"orient":"none","legendX":285,"legendY":464,"direction":"horizontal","title":null,"encode":{"symbols":{"update":{"opacity":{"value":1},"strokeWidth":{"value":2}}}}}}},
 "layer":[{"mark":{"type":"area","opacity":0.2},"encoding":{"y":{"field":"lo","type":"quantitative"},"y2":{"field":"hi"}}},{"mark":{"type":"line","strokeWidth":1.3}}]},
{"title":{"text":"Medium Diverse GR","offset":-3.5},"width":170,"height":174,"transform":[{"filter":"datum.p==='Medium Diverse GR'"}],
 "encoding":{"x":{"field":"x","type":"quantitative","scale":{"domain":[-0.05,1.05],"nice":false,"zero":false},"axis":{"values":[0,0.5,1],"format":".1f","title":"Steps (×10⁵)"}},
  "y":{"field":"y","type":"quantitative","scale":{"domain":[-9.6,60.2],"nice":false,"zero":false},"axis":{"values":[0,20,40,60],"title":null}},
  "color":{"field":"s","type":"nominal","scale":{"domain":["Eik-QRL","QRL","Eik-HiQRL (Ours)"],"range":["#2ca02c","#d62728","#1f77b4"]},"legend":{"orient":"none","legendX":285,"legendY":464,"direction":"horizontal","title":null,"encode":{"symbols":{"update":{"opacity":{"value":1},"strokeWidth":{"value":2}}}}}}},
 "layer":[{"mark":{"type":"area","opacity":0.2},"encoding":{"y":{"field":"lo","type":"quantitative"},"y2":{"field":"hi"}}},{"mark":{"type":"line","strokeWidth":1.3}}]},
{"title":"Large","width":170,"height":174,"transform":[{"filter":"datum.p==='Large'"}],
 "encoding":{"x":{"field":"x","type":"quantitative","scale":{"domain":[-0.05,1.05],"nice":false,"zero":false},"axis":{"values":[0,0.5,1],"format":".1f","title":"Steps (×10⁵)"}},
  "y":{"field":"y","type":"quantitative","scale":{"domain":[-9,177],"nice":false,"zero":false},"axis":{"values":[0,50,100,150],"title":null}},
  "color":{"field":"s","type":"nominal","scale":{"domain":["Eik-QRL","QRL","Eik-HiQRL (Ours)"],"range":["#2ca02c","#d62728","#1f77b4"]},"legend":{"orient":"none","legendX":285,"legendY":464,"direction":"horizontal","title":null,"encode":{"symbols":{"update":{"opacity":{"value":1},"strokeWidth":{"value":2}}}}}}},
 "layer":[{"mark":{"type":"area","opacity":0.2},"encoding":{"y":{"field":"lo","type":"quantitative"},"y2":{"field":"hi"}}},{"mark":{"type":"line","strokeWidth":1.3}}]},
{"title":"Large Diverse G","width":170,"height":174,"transform":[{"filter":"datum.p==='Large Diverse G'"}],
 "encoding":{"x":{"field":"x","type":"quantitative","scale":{"domain":[-0.05,1.05],"nice":false,"zero":false},"axis":{"values":[0,0.5,1],"format":".1f","title":"Steps (×10⁵)"}},
  "y":{"field":"y","type":"quantitative","scale":{"domain":[-13.5,248],"nice":false,"zero":false},"axis":{"values":[0,100,200],"title":null}},
  "color":{"field":"s","type":"nominal","scale":{"domain":["Eik-QRL","QRL","Eik-HiQRL (Ours)"],"range":["#2ca02c","#d62728","#1f77b4"]},"legend":{"orient":"none","legendX":285,"legendY":464,"direction":"horizontal","title":null,"encode":{"symbols":{"update":{"opacity":{"value":1},"strokeWidth":{"value":2}}}}}}},
 "layer":[{"mark":{"type":"area","opacity":0.2},"encoding":{"y":{"field":"lo","type":"quantitative"},"y2":{"field":"hi"}}},{"mark":{"type":"line","strokeWidth":1.3}}]},
{"title":{"text":"Large Diverse GR","offset":-3},"width":170,"height":174,"transform":[{"filter":"datum.p==='Large Diverse GR'"}],
 "encoding":{"x":{"field":"x","type":"quantitative","scale":{"domain":[-0.05,1.05],"nice":false,"zero":false},"axis":{"values":[0,0.5,1],"format":".1f","title":"Steps (×10⁵)"}},
  "y":{"field":"y","type":"quantitative","scale":{"domain":[-7,151],"nice":false,"zero":false},"axis":{"values":[0,50,100,150],"title":null}},
  "color":{"field":"s","type":"nominal","scale":{"domain":["Eik-QRL","QRL","Eik-HiQRL (Ours)"],"range":["#2ca02c","#d62728","#1f77b4"]},"legend":{"orient":"none","legendX":285,"legendY":464,"direction":"horizontal","title":null,"encode":{"symbols":{"update":{"opacity":{"value":1},"strokeWidth":{"value":2}}}}}}},
 "layer":[{"mark":{"type":"area","opacity":0.2},"encoding":{"y":{"field":"lo","type":"quantitative"},"y2":{"field":"hi"}}},{"mark":{"type":"line","strokeWidth":1.3}}]}
],
"config":{
 "font":"DejaVu Sans",
 "view":{"fill":"#f2f2f2","stroke":"#000","strokeWidth":1},
 "axis":{"labelFontSize":14,"titleFontSize":14,"labelColor":"#000","titleColor":"#000","tickColor":"#000","tickSize":4,"domain":false,"gridColor":"#b5b5b5","gridWidth":1,"titleFontWeight":"normal","labelPadding":1,"titlePadding":3},
 "title":{"fontSize":14,"fontWeight":"normal","offset":3,"color":"#000","font":"DejaVu Sans","frame":"group"},
 "legend":{"labelFontSize":14,"labelColor":"#000","symbolType":"stroke","symbolSize":576,"symbolStrokeWidth":2,"symbolOpacity":1,"columnPadding":32,"labelOffset":14,"padding":2,"fillColor":"#fff","strokeColor":"#ccc","cornerRadius":3}
}
}
